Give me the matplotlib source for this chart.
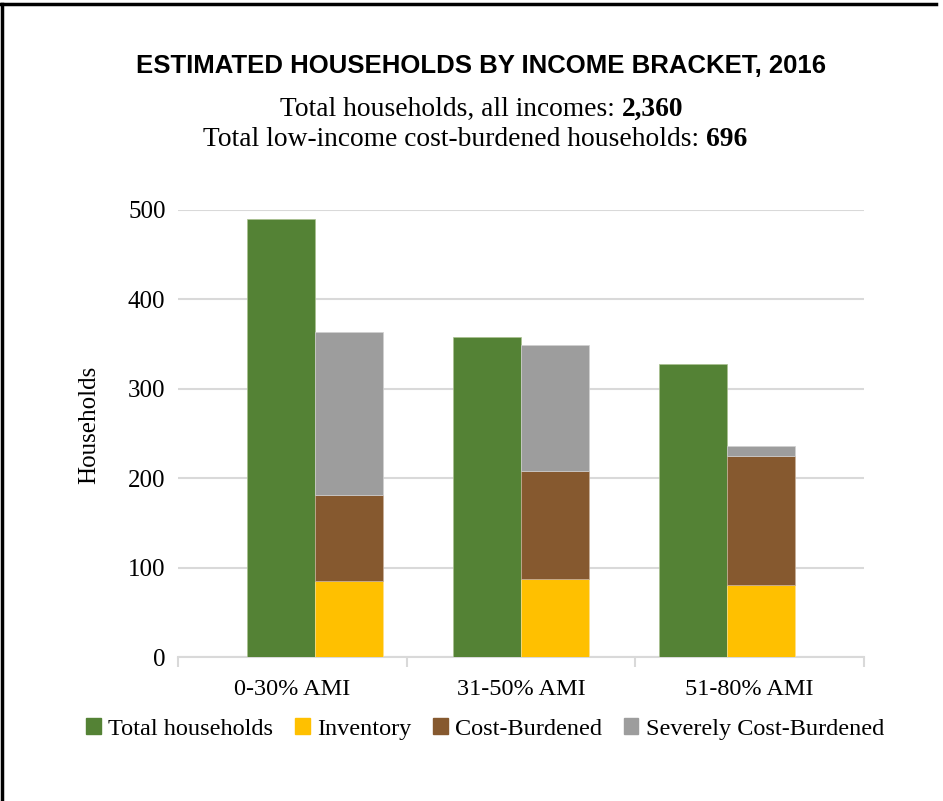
import numpy as np
import matplotlib.pyplot as plt
from matplotlib import font_manager
from matplotlib.lines import Line2D
from matplotlib.patches import Patch

# data
categories = ["0-30% AMI", "31-50% AMI", "51-80% AMI"]
total_households = [490, 358, 328]
inventory = [85, 87, 80]
cost_burdened = [96, 121, 145]
severely_cost_burdened = [182, 141, 11]
total_all_incomes = "2,360"
total_low_income_cb = "696"

green = "#548235"
yellow = "#FFC000"
brown = "#86592F"
gray = "#9D9D9D"
grid_col = "#D9D9D9"

names = {f.name for f in font_manager.fontManager.ttflist}
serif = "Liberation Serif" if "Liberation Serif" in names else "DejaVu Serif"
plt.rcParams["font.family"] = [serif, "DejaVu Serif"]

W, H = 943, 801
fig = plt.figure(figsize=(W / 100, H / 100), dpi=100)
ax = fig.add_axes([178 / W, 1 - 657 / H, (864 - 178) / W, (657 - 210) / H])

x = np.arange(len(categories))
centers = 1.5 + (x - 1) * 0.9
bw = 0.297

ax.bar(centers - bw / 2, total_households, bw, color=green, edgecolor="#A9C18F", linewidth=0.5, zorder=3)
ax.bar(centers + bw / 2, inventory, bw, color=yellow, edgecolor="#FFE08A", linewidth=0.5, zorder=3)
ax.bar(centers + bw / 2, cost_burdened, bw, bottom=inventory, color=brown,
       edgecolor="#C8B09A", linewidth=0.5, zorder=3)
bottom2 = np.array(inventory) + np.array(cost_burdened)
ax.bar(centers + bw / 2, severely_cost_burdened, bw, bottom=bottom2, color=gray,
       edgecolor="#D0D0D0", linewidth=0.5, zorder=3)

ax.set_xlim(0, 3)
ax.set_ylim(0, 500)
ax.set_yticks(np.arange(0, 501, 100))
ax.yaxis.grid(True, color=grid_col, linewidth=1.5, zorder=0)
ax.tick_params(axis="y", length=0, labelsize=18, pad=9)
ax.set_xticks(x + 0.5)
ax.set_xticklabels(categories, fontsize=17.5)
ax.set_xticks(np.arange(4), minor=True)
ax.tick_params(axis="x", which="major", length=0, pad=16)
ax.tick_params(axis="x", which="minor", length=7, width=1.5, color=grid_col, direction="out")
for s in ["top", "right", "left"]:
    ax.spines[s].set_visible(False)
ax.spines["bottom"].set_color(grid_col)
ax.spines["bottom"].set_linewidth(1.5)
ax.set_ylabel("Households", fontsize=18, labelpad=20)
ax.yaxis.label.set_y(0.52)

handles = [Patch(color=green), Patch(color=yellow), Patch(color=brown), Patch(color=gray)]
labels = ["Total households", "Inventory", "Cost-Burdened", "Severely Cost-Burdened"]
fig.legend(handles, labels, loc="center", bbox_to_anchor=(485 / W, 1 - 729 / H), ncol=4,
           frameon=False, fontsize=17.5, handlelength=0.6, handleheight=0.6,
           handletextpad=0.3, columnspacing=0.9)

fig.text(481 / W, 1 - 73 / H, "ESTIMATED HOUSEHOLDS BY INCOME BRACKET, 2016",
         family=["Liberation Sans", "DejaVu Sans"], fontsize=18.5, weight="bold",
         ha="center", va="baseline")


def mixed_line(y, normal, bold, xc):
    t1 = fig.text(0, y, normal, fontsize=19.8, ha="left", va="baseline")
    t2 = fig.text(0, y, bold, fontsize=19.8, weight="bold", ha="left", va="baseline")
    fig.canvas.draw()
    r = fig.canvas.get_renderer()
    w1 = t1.get_window_extent(r).width / W
    w2 = t2.get_window_extent(r).width / W
    x0 = xc - (w1 + w2) / 2
    t1.set_x(x0)
    t2.set_x(x0 + w1)


mixed_line(1 - 116 / H, "Total households, all incomes: ", total_all_incomes, 482 / W)
mixed_line(1 - 146 / H, "Total low-income cost-burdened households: ", total_low_income_cb, 475 / W)

# outer frame (top and left edges)
fig.add_artist(Line2D([0, 936 / W], [1 - 3.5 / H, 1 - 3.5 / H], color="black", linewidth=2.5))
fig.add_artist(Line2D([1.5 / W, 1.5 / W], [0, 1 - 3.5 / H], color="black", linewidth=2.5))

fig.savefig("out.png", dpi=100)
